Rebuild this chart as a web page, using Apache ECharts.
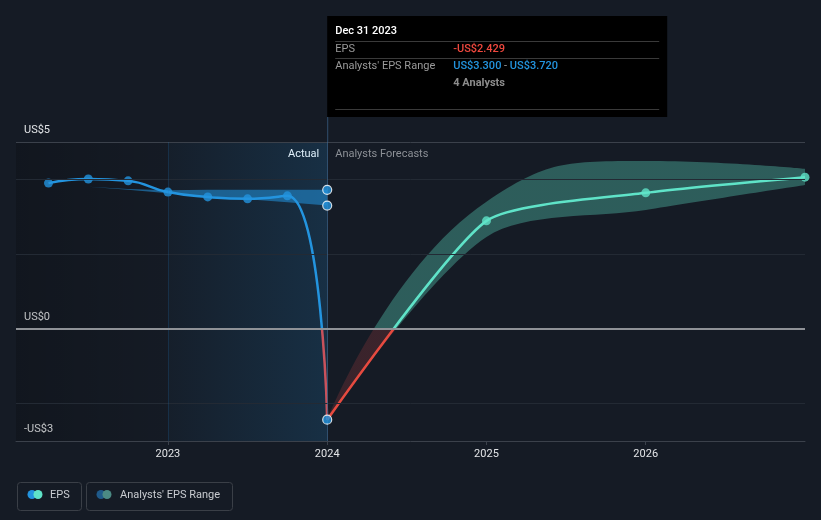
<!DOCTYPE html>
<html>
<head>
<meta charset="utf-8">
<style>
  html, body { margin: 0; padding: 0; background: #151b25; }
  #chart { width: 821px; height: 520px; }
</style>
<script src="https://cdn.jsdelivr.net/npm/echarts@6/dist/echarts.min.js"></script>
</head>
<body>
<div id="chart"></div>
<script>
// ---------- data ----------
const tickYears = [2023, 2024, 2025, 2026];
const yLabelValues = [5, 0, -3];

const actualDates = [2022.25, 2022.5, 2022.75, 2023.0, 2023.25, 2023.5, 2023.75, 2024.0];
const actualEPS   = [3.90, 4.01, 3.96, 3.66, 3.53, 3.48, 3.56, -2.429];

const histRangeDates = [2022.5, 2022.75, 2023.0, 2023.25, 2023.5, 2023.75, 2024.0];
const histRangeLow   = [3.80, 3.72, 3.63, 3.55, 3.47, 3.39, 3.30];
const histRangeHigh  = [3.80, 3.74, 3.71, 3.72, 3.72, 3.72, 3.72];

const forecastDates = [2024.0, 2025.0, 2026.0, 2027.0];
const forecastEPS   = [-2.429, 2.89, 3.64, 4.06];
const forecastLow   = [-2.429, 2.46, 3.18, 3.85];
const forecastHigh  = [-2.429, 3.40, 4.49, 4.28];

const tooltipDate = 'Dec 31 2023';
const analystCount = 4;

// ---------- helpers ----------
const FONT = 'Roboto, "Noto Sans", sans-serif';
const BLUE = '#2394df';
const TEAL = '#5fe3c8';
const RED = '#e64a3f';
const fmt = v => (v < 0 ? '-US$' : 'US$') + Math.abs(v).toFixed(3);
const pairs = (xs, ys) => xs.map((x, i) => [x, ys[i]]);
// band data is given as [value, date] so the stack acts on the value (y) dimension
const bandLow = (xs, lo) => xs.map((x, i) => [lo[i], x]);
const bandDiff = (xs, lo, hi) => xs.map((x, i) => [+(hi[i] - lo[i]).toFixed(4), x]);

const chart = echarts.init(document.getElementById('chart'), null, { renderer: 'canvas' });

const option = {
  backgroundColor: '#151b25',
  animation: false,
  textStyle: { fontFamily: FONT },
  grid: { left: 16, right: 16, top: 142, bottom: 79, containLabel: false },
  xAxis: {
    type: 'value',
    min: 2022.046,
    max: 2027.0,
    axisLine: { show: true, onZero: false, lineStyle: { color: '#3b414b', width: 1 } },
    axisTick: { show: true, customValues: tickYears, length: 4, lineStyle: { color: '#3b414b' } },
    axisLabel: { customValues: tickYears, formatter: v => String(v), color: '#e2e4e7', fontSize: 11, margin: 8, fontFamily: FONT },
    splitLine: { show: false }
  },
  yAxis: {
    type: 'value',
    min: -3,
    max: 5,
    interval: 1,
    axisLine: { show: false },
    axisTick: { show: false },
    splitLine: { show: false },
    axisLabel: {
      inside: true,
      margin: 8,
      color: '#e2e4e7',
      fontSize: 11,
      fontFamily: FONT,
      verticalAlign: 'bottom',
      padding: [0, 0, 6, 0],
      formatter: v => yLabelValues.indexOf(v) >= 0 ? (v < 0 ? '-US$' + Math.abs(v) : 'US$' + v) : ''
    }
  },
  visualMap: [
    { type: 'piecewise', show: false, dimension: 1, seriesIndex: 4,
      pieces: [{ lt: 0, color: '#c9525c' }, { gte: 0, lt: 1000, color: BLUE }] },
    { type: 'piecewise', show: false, dimension: 1, seriesIndex: 5,
      pieces: [{ lt: 0, color: RED }, { gte: 0, lt: 1000, color: TEAL }] },
    { type: 'piecewise', show: false, dimension: 0, seriesIndex: 3,
      pieces: [{ lt: 0, color: 'rgba(210,70,70,0.6)' }, { gte: 0, lt: 1000, color: TEAL }] }
  ],
  series: [
    // 0: historic range lower (invisible) + background marks
    {
      type: 'line', z: 1, stack: 'hist', smooth: false, showSymbol: false, silent: true,
      encode: { x: 1, y: 0 },
      data: bandLow(histRangeDates, histRangeLow),
      lineStyle: { opacity: 0, width: 0 },
      markArea: {
        silent: true,
        data: [
          [{ xAxis: 2022.046, itemStyle: { color: new echarts.graphic.LinearGradient(0, 0, 1, 0, [
              { offset: 0, color: 'rgba(0,0,0,0.18)' }, { offset: 1, color: 'rgba(0,0,0,0.02)' }]) } },
           { xAxis: 2023.0 }],
          [{ xAxis: 2023.0, itemStyle: { color: new echarts.graphic.LinearGradient(0, 0, 1, 0, [
              { offset: 0, color: 'rgba(35,148,223,0.03)' }, { offset: 1, color: 'rgba(35,148,223,0.17)' }]) } },
           { xAxis: 2024.0 }]
        ]
      },
      markLine: {
        silent: true, symbol: ['none', 'none'], label: { show: false },
        data: [
          { yAxis: 5, lineStyle: { color: '#3b414b', width: 1, type: 'solid' } },
          { yAxis: 4, lineStyle: { color: '#232a34', width: 1, type: 'solid' } },
          { yAxis: 2, lineStyle: { color: '#232a34', width: 1, type: 'solid' } },
          { yAxis: -2, lineStyle: { color: '#232a34', width: 1, type: 'solid' } },
          { xAxis: 2023, lineStyle: { color: 'rgba(35,120,190,0.2)', width: 1, type: 'solid' } },
          { xAxis: 2024, lineStyle: { color: 'rgba(60,100,140,0.7)', width: 1, type: 'solid' } }
        ]
      }
    },
    // 1: historic range band
    {
      type: 'line', z: 2, stack: 'hist', smooth: false, showSymbol: false, silent: true,
      encode: { x: 1, y: 0 },
      data: bandDiff(histRangeDates, histRangeLow, histRangeHigh),
      lineStyle: { opacity: 0, width: 0 },
      areaStyle: { color: BLUE, opacity: 0.55 },
      markLine: {
        silent: true, symbol: ['none', 'none'], label: { show: false },
        data: [{ yAxis: 0, lineStyle: { color: '#8f9297', width: 2, type: 'solid' } }]
      }
    },
    // 2: forecast range lower (invisible)
    {
      type: 'line', z: 2, stack: 'fc', smooth: 0.3, showSymbol: false, silent: true,
      encode: { x: 1, y: 0 },
      data: bandLow(forecastDates, forecastLow),
      lineStyle: { opacity: 0, width: 0 }
    },
    // 3: forecast range band
    {
      type: 'line', z: 2, stack: 'fc', smooth: 0.5, showSymbol: false, silent: true,
      encode: { x: 1, y: 0 },
      data: bandDiff(forecastDates, forecastLow, forecastHigh),
      lineStyle: { opacity: 0, width: 0 },
      areaStyle: { opacity: 0.33 }
    },
    // 4: actual EPS line
    {
      type: 'line', z: 3, smooth: 0.5, showSymbol: false, silent: true,
      data: pairs(actualDates, actualEPS),
      lineStyle: { width: 2.5 }
    },
    // 5: forecast EPS line
    {
      type: 'line', z: 3, smooth: 0.2, showSymbol: false, silent: true,
      data: pairs(forecastDates, forecastEPS),
      lineStyle: { width: 2.5 }
    },
    // 6: actual points
    {
      type: 'scatter', z: 4, symbolSize: 9, silent: true,
      data: pairs(actualDates.slice(0, -1), actualEPS.slice(0, -1)),
      itemStyle: { color: BLUE }
    },
    // 7: forecast points
    {
      type: 'scatter', z: 4, symbolSize: 9, silent: true,
      data: pairs(forecastDates.slice(1), forecastEPS.slice(1)),
      itemStyle: { color: TEAL }
    },
    // 8: highlighted points at latest date
    {
      type: 'scatter', z: 5, symbolSize: 9, silent: true,
      data: [
        [actualDates[actualDates.length - 1], actualEPS[actualEPS.length - 1]],
        [histRangeDates[histRangeDates.length - 1], histRangeLow[histRangeLow.length - 1]],
        [histRangeDates[histRangeDates.length - 1], histRangeHigh[histRangeHigh.length - 1]]
      ],
      itemStyle: { color: BLUE, borderColor: '#ffffff', borderWidth: 1.2 }
    }
  ]
};

chart.setOption(option);

// ---------- overlay graphics (tooltip, labels, legend) ----------
const divX = chart.convertToPixel({ gridIndex: 0 }, [2024, 0])[0];
const topY = chart.convertToPixel({ gridIndex: 0 }, [2024, 5])[1];
const lastLow = histRangeLow[histRangeLow.length - 1];
const lastHigh = histRangeHigh[histRangeHigh.length - 1];
const lastEPS = actualEPS[actualEPS.length - 1];

const tipW = 340, tipTop = 16, tipH = 101;
const tx = divX + 8, vx = divX + 126;

function txt(x, y, s, color, weight) {
  return {
    type: 'text', x: x, y: y, silent: true,
    style: { text: s, fill: color, font: (weight || 'normal') + ' 11px ' + FONT, textVerticalAlign: 'middle', textAlign: 'left' }
  };
}
function hline(x1, x2, y, color) {
  return { type: 'line', silent: true, shape: { x1: x1, y1: y + 0.5, x2: x2, y2: y + 0.5 }, style: { stroke: color, lineWidth: 1 } };
}

const graphics = [
  { type: 'line', silent: true, shape: { x1: divX + 0.5, y1: tipTop + tipH, x2: divX + 0.5, y2: topY }, style: { stroke: 'rgba(60,100,140,0.7)', lineWidth: 1 } },
  { type: 'rect', silent: true, shape: { x: divX, y: tipTop, width: tipW, height: tipH }, style: { fill: '#000000' } },
  txt(tx, 31, tooltipDate, '#ffffff', '500'),
  hline(tx, divX + 332, 41, '#3a3a3a'),
  txt(tx, 49, 'EPS', '#9a9a9a'),
  txt(vx, 49, fmt(lastEPS), '#f0483e', '500'),
  hline(tx, divX + 332, 58, '#3a3a3a'),
  txt(tx, 66, "Analysts' EPS Range", '#9a9a9a'),
  { type: 'text', x: vx, y: 66, silent: true, style: {
      text: '{b|' + fmt(lastLow) + '}{g| - }{b|' + fmt(lastHigh) + '}',
      font: '11px ' + FONT, textVerticalAlign: 'middle',
      rich: { b: { fill: BLUE, fontWeight: 500, fontSize: 11, fontFamily: FONT }, g: { fill: '#9a9a9a', fontSize: 11, fontFamily: FONT } } } },
  txt(vx, 83, analystCount + ' Analysts', '#8c8c8c', 'bold'),
  hline(tx, divX + 332, 109, '#3a3a3a'),
  { type: 'text', x: divX - 8, y: 154, silent: true, style: { text: 'Actual', fill: '#ffffff', font: '11px ' + FONT, textAlign: 'right', textVerticalAlign: 'middle' } },
  { type: 'text', x: divX + 8, y: 154, silent: true, style: { text: 'Analysts Forecasts', fill: '#8c9096', font: '11px ' + FONT, textAlign: 'left', textVerticalAlign: 'middle' } },
  { type: 'rect', silent: true, shape: { x: 17.5, y: 482.5, width: 64, height: 28, r: 3 }, style: { fill: 'none', stroke: '#3a3f47', lineWidth: 1 } },
  { type: 'circle', silent: true, shape: { cx: 32, cy: 494.5, r: 4.5 }, style: { fill: BLUE } },
  { type: 'circle', silent: true, shape: { cx: 38, cy: 494.5, r: 4.5 }, style: { fill: TEAL } },
  { type: 'text', x: 50, y: 495, silent: true, style: { text: 'EPS', fill: '#c9ccd1', font: '11px ' + FONT, textVerticalAlign: 'middle' } },
  { type: 'rect', silent: true, shape: { x: 86.5, y: 482.5, width: 146, height: 28, r: 3 }, style: { fill: 'none', stroke: '#3a3f47', lineWidth: 1 } },
  { type: 'circle', silent: true, shape: { cx: 101, cy: 494.5, r: 4.5 }, style: { fill: '#1f5a8a' } },
  { type: 'circle', silent: true, shape: { cx: 107, cy: 494.5, r: 4.5 }, style: { fill: '#4b8a84' } },
  { type: 'text', x: 120, y: 495, silent: true, style: { text: "Analysts' EPS Range", fill: '#c9ccd1', font: '11px ' + FONT, textVerticalAlign: 'middle' } }
];

chart.setOption({ graphic: graphics });
</script>
</body>
</html>
